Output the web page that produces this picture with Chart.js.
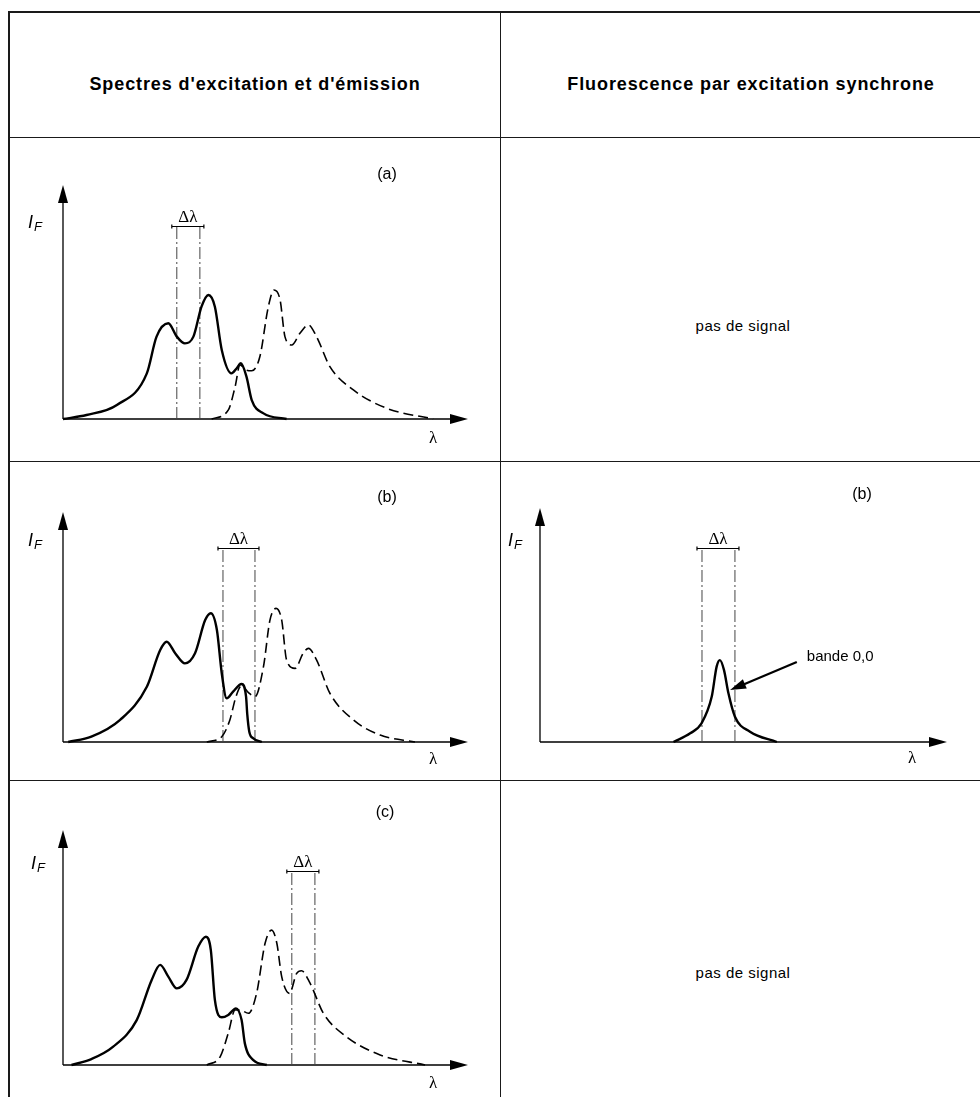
<!DOCTYPE html>
<html>
<head>
<meta charset="utf-8">
<script src="https://cdn.jsdelivr.net/npm/chart.js@4.4.1/dist/chart.umd.min.js"></script>
<style>
body { margin: 0; background: #fff; font-family: "Liberation Sans", Arial, sans-serif; }
#page { position: relative; width: 980px; height: 1097px; overflow: hidden; background: #fff; }
.ln { position: absolute; background: #1a1a1a; }
.txt { position: absolute; transform: translate(-50%, -50%); white-space: nowrap; color: #000; }
.hd { font-weight: bold; font-size: 18px; letter-spacing: 0.9px; }
.ns { font-size: 15px; letter-spacing: 0.5px; }
canvas { position: absolute; }
</style>
</head>
<body>
<div id="page">
  <div class="ln" style="left:8px;top:11px;width:980px;height:2px"></div>
  <div class="ln" style="left:8px;top:11px;width:2px;height:1090px"></div>
  <div class="ln" style="left:500px;top:11px;width:1px;height:1090px"></div>
  <div class="ln" style="left:8px;top:137px;width:980px;height:1px"></div>
  <div class="ln" style="left:8px;top:461px;width:980px;height:1px"></div>
  <div class="ln" style="left:8px;top:780px;width:980px;height:1px"></div>

  <div class="txt hd" style="left:255px;top:84px">Spectres d'excitation et d'émission</div>
  <div class="txt hd" style="left:751px;top:84px">Fluorescence par excitation synchrone</div>
  <div class="txt ns" style="left:743px;top:325px">pas de signal</div>
  <div class="txt ns" style="left:743px;top:972px">pas de signal</div>

  <canvas id="cA"></canvas>
  <canvas id="cB"></canvas>
  <canvas id="cC"></canvas>
  <canvas id="cS"></canvas>
</div>

<script>
// (a) excitation (solid) and emission (dashed)
const exA_lam = [0, 5.8, 13.3, 20.7, 23.1, 26.0, 28.1, 30.1, 32.2, 34.2, 35.9, 37.5, 39.2, 41.6, 42.9, 43.9, 45.3, 46.6, 49.5, 55.2];
const exA_if  = [0, 1.7, 6.0, 19.5, 35.2, 40.9, 35.2, 32.3, 35.2, 48.0, 53.0, 48.0, 29.5, 19.5, 21.7, 23.8, 18.1, 8.1, 2.4, 0];
const emA_lam = [36.7, 40.8, 42.5, 43.7, 45.3, 46.6, 48.6, 50.7, 52.1, 53.6, 54.8, 56.5, 58.5, 60.6, 62.6, 65.9, 71.7, 79.9, 91.4];
const emA_if  = [0, 3.8, 13.8, 23.1, 20.9, 20.6, 26.6, 48.0, 55.1, 50.9, 35.2, 31.6, 36.6, 40.2, 35.2, 22.4, 12.4, 4.6, 0];
const winA = [28.1, 33.8];

// (b)
const exB_lam = [1.3, 7, 14.1, 20.7, 24.0, 25.6, 27.7, 30.1, 32.6, 35.1, 36.5, 38.0, 39.2, 40.4, 42.0, 44.1, 45.2, 45.5, 46.0, 47.0, 49.1];
const exB_if  = [0, 2.3, 9.6, 24.0, 40.0, 43.6, 38.6, 34.2, 38.6, 53.0, 56.0, 48.7, 29.9, 19.0, 21.9, 25.2, 19.7, 12.0, 4.5, 1.6, 0];
const emB_lam = [35.5, 39.2, 41.2, 42.7, 44.1, 45.8, 47.4, 49.5, 51.1, 52.6, 54.0, 55.2, 57.3, 59.3, 60.6, 62.6, 65.9, 71.7, 78.3, 86.9];
const emB_if  = [0, 2.3, 9.6, 19.7, 24.5, 21.5, 19.7, 32.8, 53.0, 58.1, 53.0, 35.7, 32.0, 38.6, 40.7, 35.7, 21.2, 9.6, 3.0, 0];
const winB = [39.5, 47.4];

// (c)
const exC_lam = [2.1, 7, 12.4, 18.2, 21.9, 24.0, 26.0, 28.1, 30.5, 33.4, 35.3, 36.5, 37.5, 39.2, 40.8, 42.7, 44.1, 44.9, 47.0, 50.3];
const exC_if  = [0, 2.5, 7.8, 19.1, 36.2, 42.6, 37.6, 32.6, 36.2, 50.4, 54.6, 48.9, 27.7, 20.3, 21.3, 24.1, 19.1, 9.2, 2.1, 0];
const emC_lam = [35.5, 38.8, 40.8, 42.5, 43.7, 45.8, 47.8, 49.9, 51.5, 52.8, 54.0, 55.9, 57.7, 58.9, 61.0, 64.3, 70.0, 78.3, 89.4];
const emC_if  = [0, 3.5, 13.5, 23.4, 23.4, 22.0, 30.5, 51.8, 57.4, 51.8, 37.6, 30.5, 39.0, 40.1, 34.8, 22.0, 12.0, 4.3, 0];
const winC = [56.5, 62.2];

// synchronous spectrum (b): bande 0,0
const syB_lam = [32.8, 36.9, 39.7, 42.2, 43.4, 44.2, 45.2, 46.3, 47.9, 51.6, 58.2];
const syB_if  = [0, 3.7, 8.0, 19.4, 32.2, 35.0, 30.8, 20.8, 10.8, 4.4, 0];
const winS = [39.8, 47.9];
const arrow_lam = [63.1, 46.7];
const arrow_if  = [34.2, 22.2];

const pts = (xs, ys) => xs.map((v, i) => ({ x: v, y: ys[i] }));

function solid(xs, ys) {
  return { data: pts(xs, ys), borderColor: "#000", borderWidth: 2.4, pointRadius: 0,
    showLine: true, cubicInterpolationMode: "monotone", clip: false };
}
function dashed(xs, ys) {
  return { data: pts(xs, ys), borderColor: "#000", borderWidth: 1.6, borderDash: [10, 5], pointRadius: 0,
    showLine: true, cubicInterpolationMode: "monotone", clip: false };
}
function winLines(win, top) {
  return win.map(w => ({ data: [{ x: w, y: 0 }, { x: w, y: top }], borderColor: "#444", borderWidth: 1,
    borderDash: [12, 3, 2, 3], pointRadius: 0, showLine: true, clip: false }));
}

const deco = {
  id: "deco",
  beforeDatasetsDraw(chart) {
    const { ctx, chartArea: a } = chart;
    ctx.save();
    ctx.strokeStyle = "#000";
    ctx.fillStyle = "#000";
    ctx.lineWidth = 1.3;
    ctx.beginPath();
    ctx.moveTo(a.left, a.bottom); ctx.lineTo(a.right - 10, a.bottom);
    ctx.moveTo(a.left, a.bottom); ctx.lineTo(a.left, a.top + 10);
    ctx.stroke();
    ctx.beginPath();
    ctx.moveTo(a.right, a.bottom); ctx.lineTo(a.right - 18, a.bottom - 5); ctx.lineTo(a.right - 18, a.bottom + 5);
    ctx.closePath(); ctx.fill();
    ctx.beginPath();
    ctx.moveTo(a.left, a.top); ctx.lineTo(a.left - 5, a.top + 18); ctx.lineTo(a.left + 5, a.top + 18);
    ctx.closePath(); ctx.fill();
    ctx.restore();
  },
  afterDatasetsDraw(chart, args, o) {
    const { ctx, chartArea: a, scales: { x, y } } = chart;
    ctx.save();
    ctx.fillStyle = "#000";
    ctx.strokeStyle = "#000";
    // panel tag
    ctx.font = "16px 'Liberation Sans'";
    ctx.textAlign = "center"; ctx.textBaseline = "middle";
    ctx.fillText(o.tag, a.right + o.tagDx, a.top + o.tagDy);
    // axis names
    ctx.font = "italic 18px 'Liberation Sans'";
    ctx.textAlign = "left"; ctx.textBaseline = "alphabetic";
    const ix = a.left + o.ifDx, iy = a.top + o.ifDy;
    ctx.fillText("I", ix, iy);
    ctx.font = "italic 13px 'Liberation Sans'";
    ctx.fillText("F", ix + 6, iy + 3);
    ctx.font = "17px 'Liberation Serif'";
    ctx.textAlign = "center";
    ctx.fillText("λ", a.right - 35, a.bottom + o.lamDy);
    // Δλ window bar
    const x1 = x.getPixelForValue(o.win[0]) - 5, x2 = x.getPixelForValue(o.win[1]) + 4;
    const by = Math.round(y.getPixelForValue(o.barY)) + 0.5;
    ctx.lineWidth = 1.2;
    ctx.beginPath();
    ctx.moveTo(x1, by); ctx.lineTo(x2, by);
    ctx.moveTo(x1, by - 2); ctx.lineTo(x1, by + 2);
    ctx.moveTo(x2, by - 2); ctx.lineTo(x2, by + 2);
    ctx.stroke();
    ctx.font = "17px 'Liberation Serif'";
    ctx.fillText("Δλ", (x1 + x2) / 2, by - 5);
    // annotation arrow
    if (o.arrow) {
      const tx = x.getPixelForValue(arrow_lam[0]), ty = y.getPixelForValue(arrow_if[0]);
      const hx = x.getPixelForValue(arrow_lam[1]), hy = y.getPixelForValue(arrow_if[1]);
      const ang = Math.atan2(hy - ty, hx - tx);
      ctx.lineWidth = 2.2;
      ctx.beginPath(); ctx.moveTo(tx, ty); ctx.lineTo(hx - 12 * Math.cos(ang), hy - 12 * Math.sin(ang)); ctx.stroke();
      ctx.beginPath();
      ctx.moveTo(hx, hy);
      ctx.lineTo(hx - 16 * Math.cos(ang) + 5 * Math.sin(ang), hy - 16 * Math.sin(ang) - 5 * Math.cos(ang));
      ctx.lineTo(hx - 16 * Math.cos(ang) - 5 * Math.sin(ang), hy - 16 * Math.sin(ang) + 5 * Math.cos(ang));
      ctx.closePath(); ctx.fill();
      ctx.font = "15px 'Liberation Sans'";
      ctx.textAlign = "left"; ctx.textBaseline = "middle";
      ctx.fillText("bande 0,0", tx + 10, ty - 5);
    }
    ctx.restore();
  }
};

function makePanel(id, box, area, datasets, opts) {
  const cv = document.getElementById(id);
  cv.width = box[2]; cv.height = box[3];
  cv.style.left = box[0] + "px"; cv.style.top = box[1] + "px";
  new Chart(cv, {
    type: "scatter",
    data: { datasets: datasets },
    options: {
      responsive: false,
      animation: false,
      events: [],
      layout: { padding: {
        left: area[0] - box[0], top: area[1] - box[1],
        right: box[0] + box[2] - area[2], bottom: box[1] + box[3] - area[3] } },
      scales: {
        x: { type: "linear", min: 0, max: 100, display: false },
        y: { type: "linear", min: 0, max: 100, display: false }
      },
      plugins: { legend: { display: false }, tooltip: { enabled: false }, deco: opts }
    },
    plugins: [deco]
  });
}

makePanel("cA", [11, 140, 487, 318], [63, 185, 468, 419],
  [solid(exA_lam, exA_if), dashed(emA_lam, emA_if), ...winLines(winA, 82.5)],
  { tag: "(a)", tagDx: -81, tagDy: -10, ifDx: -35, ifDy: 43, lamDy: 24, win: winA, barY: 82.5 });

makePanel("cB", [11, 463, 487, 315], [63, 512, 468, 742],
  [solid(exB_lam, exB_if), dashed(emB_lam, emB_if), ...winLines(winB, 84.3)],
  { tag: "(b)", tagDx: -81, tagDy: -14, ifDx: -35, ifDy: 34, lamDy: 22, win: winB, barY: 84.3 });

makePanel("cC", [11, 783, 487, 314], [63, 830, 468, 1065],
  [solid(exC_lam, exC_if), dashed(emC_lam, emC_if), ...winLines(winC, 82.6)],
  { tag: "(c)", tagDx: -83, tagDy: -17, ifDx: -32, ifDy: 39, lamDy: 23, win: winC, barY: 82.6 });

makePanel("cS", [503, 463, 475, 315], [540, 508, 947, 742],
  [solid(syB_lam, syB_if), ...winLines(winS, 82.9)],
  { tag: "(b)", tagDx: -85, tagDy: -13, ifDx: -32, ifDy: 38, lamDy: 21, win: winS, barY: 82.9, arrow: true });
</script>
</body>
</html>
